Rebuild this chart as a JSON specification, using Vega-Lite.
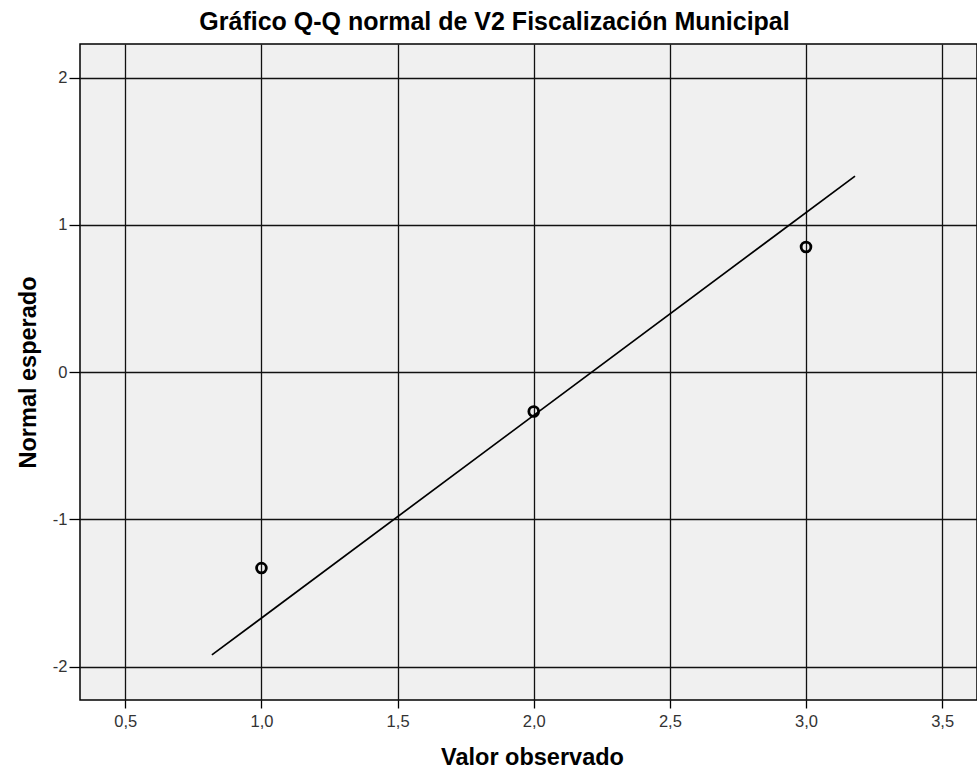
{
  "$schema": "https://vega.github.io/schema/vega-lite/v6.json",
  "autosize": "none",
  "width": 897,
  "height": 656,
  "padding": {"left": 80, "top": 44, "right": 0, "bottom": 74},
  "background": "white",
  "title": {
    "text": "Gráfico Q-Q normal de V2 Fiscalización Municipal",
    "font": "Liberation Sans",
    "fontSize": 25,
    "fontWeight": "bold",
    "color": "#000",
    "anchor": "middle",
    "dx": -34,
    "offset": 9
  },
  "config": {
    "view": {"fill": "#f0f0f0", "stroke": "#000", "strokeWidth": 1.5},
    "axis": {
      "labelFont": "Liberation Sans",
      "labelFontSize": 16.5,
      "labelColor": "#333",
      "titleFont": "Liberation Sans",
      "titleFontSize": 23.5,
      "titleFontWeight": "bold",
      "titleColor": "#000",
      "domain": false,
      "tickColor": "#000",
      "tickWidth": 1.3,
      "gridColor": "#111",
      "gridWidth": 1.3,
      "gridOpacity": 1
    }
  },
  "layer": [
    {
      "data": {"values": [
        {"obs": 0.818, "exp": -1.92},
        {"obs": 3.18, "exp": 1.332}
      ]},
      "mark": {"type": "line", "color": "#000", "strokeWidth": 1.7},
      "encoding": {
        "x": {
          "field": "obs", "type": "quantitative",
          "scale": {"domain": [0.3336, 3.628], "nice": false, "zero": false},
          "axis": {
            "values": [0.5, 1, 1.5, 2, 2.5, 3, 3.5],
            "format": ".1f",
            "labelExpr": "replace(datum.label, '.', ',')",
            "title": "Valor observado",
            "tickSize": 8,
            "labelPadding": 5,
            "titlePadding": 16,
            "titleX": 452
          }
        },
        "y": {
          "field": "exp", "type": "quantitative",
          "scale": {"domain": [-2.226, 2.229], "nice": false, "zero": false},
          "axis": {
            "values": [-2, -1, 0, 1, 2],
            "format": "d",
            "labelExpr": "replace(datum.label, '−', '-')",
            "title": "Normal esperado",
            "tickSize": 11,
            "labelPadding": 2,
            "titlePadding": 12
          }
        }
      }
    },
    {
      "data": {"values": [
        {"obs": 1, "exp": -1.33},
        {"obs": 2, "exp": -0.267},
        {"obs": 3, "exp": 0.85}
      ]},
      "mark": {"type": "point", "shape": "circle", "filled": false, "color": "#000", "strokeWidth": 2.8, "size": 95, "opacity": 1},
      "encoding": {
        "x": {"field": "obs", "type": "quantitative"},
        "y": {"field": "exp", "type": "quantitative"}
      }
    }
  ]
}
